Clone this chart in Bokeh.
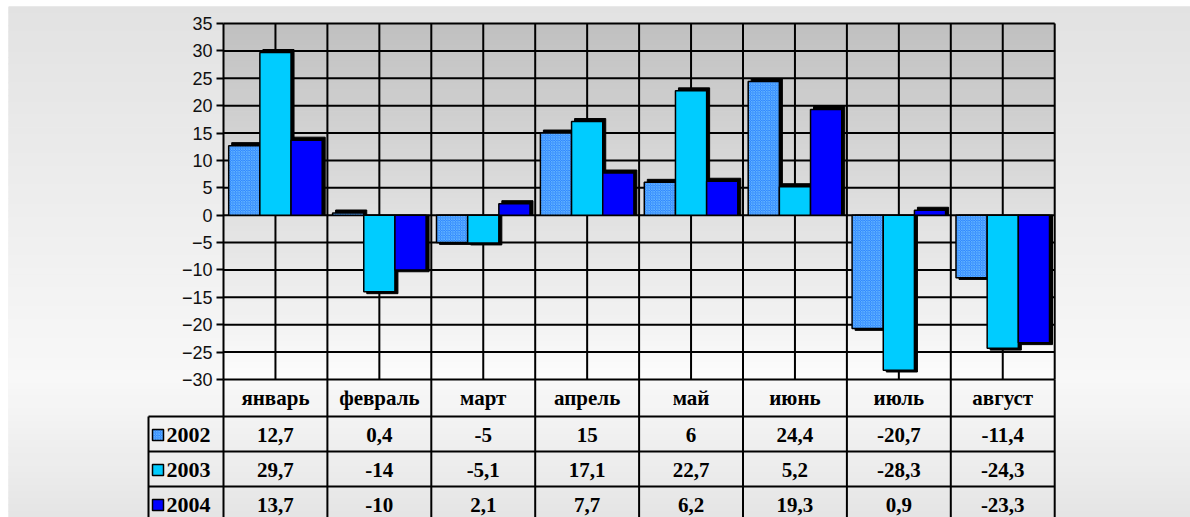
import numpy as np
from bokeh.plotting import figure
from bokeh.models import Range1d, LinearAxis, FixedTicker
from bokeh.core.properties import value
from bokeh.embed import file_html
from bokeh.resources import INLINE

# ---------------- data ----------------
months = ["январь", "февраль", "март", "апрель", "май", "июнь", "июль", "август"]
years = ["2002", "2003", "2004"]
v2002 = [12.7, 0.4, -5, 15, 6, 24.4, -20.7, -11.4]
v2003 = [29.7, -14, -5.1, 17.1, 22.7, 5.2, -28.3, -24.3]
v2004 = [13.7, -10, 2.1, 7.7, 6.2, 19.3, 0.9, -23.3]
y_ticks = [-30, -25, -20, -15, -10, -5, 0, 5, 10, 15, 20, 25, 30, 35]

series = [v2002, v2003, v2004]
fill_colors = ["#2f86ff", "#00ccff", "#0000ff"]
hatches = ["x", " ", " "]
HATCH_COLOR = "#66b8ff"

# ---------------- geometry (page pixels) ----------------
W, H = 1190, 517
LEFT, TOP = 8, 6                      # white page strip before the grey box
PX_X0, PX_CAT = 223.0, 103.9          # x of first category, px per category
PX_TOP, PX_BOT = 23.0, 379.0          # px of y=35 and y=-30
YMAX, YMIN = 35, -30
PPU = (PX_BOT - PX_TOP) / (YMAX - YMIN)

def xd(px):
    return (px - PX_X0) / PX_CAT

def yd(px):
    return YMAX - (px - PX_TOP) / PPU

x_start, x_end = xd(LEFT), xd(W)
y_top, y_bot = yd(TOP), yd(H)
ncat = len(months)

p = figure(width=W, height=H, x_range=Range1d(x_start, x_end), y_range=Range1d(y_bot, y_top),
           output_backend="svg", toolbar_location=None,
           min_border_left=LEFT, min_border_top=TOP, min_border_right=0, min_border_bottom=0,
           x_axis_location=None, y_axis_location=None)
p.outline_line_color = None
p.background_fill_color = "#eeeeee"
p.border_fill_color = "#ffffff"
p.grid.visible = False

# ---------------- outer background gradient ----------------
def lerp_gray(stops, t):
    ts = [s[0] for s in stops]
    gs = [s[1] for s in stops]
    g = int(round(np.interp(t, ts, gs)))
    return "#%02x%02x%02x" % (g, g, g)

N = 80
edges = np.linspace(TOP, H, N + 1)
outer_stops = [(TOP, 0xe2), (380, 0xf8), (517, 0xe5)]
cols = [lerp_gray(outer_stops, (edges[i] + edges[i + 1]) / 2) for i in range(N)]
p.quad(left=x_start, right=x_end, top=[yd(e) for e in edges[:-1]], bottom=[yd(e) for e in edges[1:]],
       fill_color=cols, line_color=cols, line_width=1)

# ---------------- plot area gradient ----------------
M = 65
pe = np.linspace(PX_TOP, PX_BOT, M + 1)
pstops = [(PX_TOP, 0xc0), (PX_BOT, 0xfc)]
pcols = [lerp_gray(pstops, (pe[i] + pe[i + 1]) / 2) for i in range(M)]
p.quad(left=0, right=ncat, top=[yd(e) for e in pe[:-1]], bottom=[yd(e) for e in pe[1:]],
       fill_color=pcols, line_color=pcols, line_width=1)

# ---------------- grid lines ----------------
gx = np.arange(0, ncat + 0.01, 0.5)
p.segment(x0=0, x1=ncat, y0=y_ticks, y1=y_ticks, line_color="#000000", line_width=2)
p.segment(x0=gx, x1=gx, y0=YMIN, y1=YMAX, line_color="#000000", line_width=2)

# ---------------- bars ----------------
bw = 0.3
dx = 3.0 / PX_CAT
dy = 3.0 / PPU
for k, vals in enumerate(series):
    v = np.array(vals, dtype=float)
    centers = np.arange(ncat) + 0.2 + bw * k
    s_top = np.where(v > 0, v + dy, 0)
    s_bot = np.where(v < 0, v - dy * 0.6, 0)
    p.quad(left=centers - bw / 2 + dx, right=centers + bw / 2 + dx, top=s_top, bottom=s_bot,
           fill_color="#000000", line_color="#000000")
    p.vbar(x=centers, width=bw, top=v, bottom=0, fill_color=fill_colors[k],
           hatch_pattern=hatches[k], hatch_color=HATCH_COLOR, hatch_scale=2.5, hatch_weight=0.8,
           line_color="#000000", line_width=1.5)

# ---------------- y axis ----------------
ax = LinearAxis(fixed_location=0, ticker=FixedTicker(ticks=y_ticks))
ax.axis_line_color = None
ax.major_tick_line_color = "#000000"
ax.major_tick_line_width = 2
ax.major_tick_out = 7
ax.major_tick_in = 0
ax.minor_tick_line_color = None
ax.major_label_text_font = "Liberation Sans"
ax.major_label_text_font_size = "18px"
ax.major_label_text_color = "#111111"
ax.major_label_standoff = 4
p.add_layout(ax, "left")

# ---------------- data table ----------------
hdr_h = 37.0
row_h = 35.0
row_px = [PX_BOT + hdr_h + row_h * i for i in range(len(years) + 2)]
row_y = [yd(r) for r in row_px]
leg_left = xd(148)
bottom_y = y_bot

# horizontal table lines
p.segment(x0=leg_left, x1=ncat, y0=row_y[:-1], y1=row_y[:-1], line_color="#000000", line_width=2)
# vertical table lines
tx = np.arange(0, ncat + 1)
p.segment(x0=tx, x1=tx, y0=YMIN, y1=bottom_y, line_color="#000000", line_width=2)
p.segment(x0=[leg_left], x1=[leg_left], y0=[row_y[0]], y1=[bottom_y], line_color="#000000", line_width=2)

font = value("Liberation Serif")
# header
p.text(x=np.arange(ncat) + 0.5, y=yd(PX_BOT + hdr_h / 2), text=months, text_font=font,
       text_font_style="bold", text_font_size="21px", text_align="center", text_baseline="middle",
       text_color="#000000")
# values
for k, vals in enumerate(series):
    yc = yd(row_px[k] + row_h / 2 + 1)
    labels = [("%g" % v).replace(".", ",") for v in vals]
    p.text(x=np.arange(ncat) + 0.5, y=yc, text=labels, text_font=font, text_font_style="bold",
           text_font_size="21px", text_align="center", text_baseline="middle", text_color="#000000")
    p.rect(x=xd(157.5), y=yd(row_px[k] + row_h / 2 + 1), width=11, height=11, width_units="screen",
           height_units="screen", fill_color=fill_colors[k], hatch_pattern=hatches[k],
           hatch_color=HATCH_COLOR, hatch_scale=2.5, hatch_weight=0.8, line_color="#000000", line_width=1.5)
    p.text(x=xd(166), y=yc, text=[years[k]], text_font=font, text_font_style="bold",
           text_font_size="22px", text_align="left", text_baseline="middle", text_color="#000000")

open("out.html", "w").write(file_html(p, INLINE))
